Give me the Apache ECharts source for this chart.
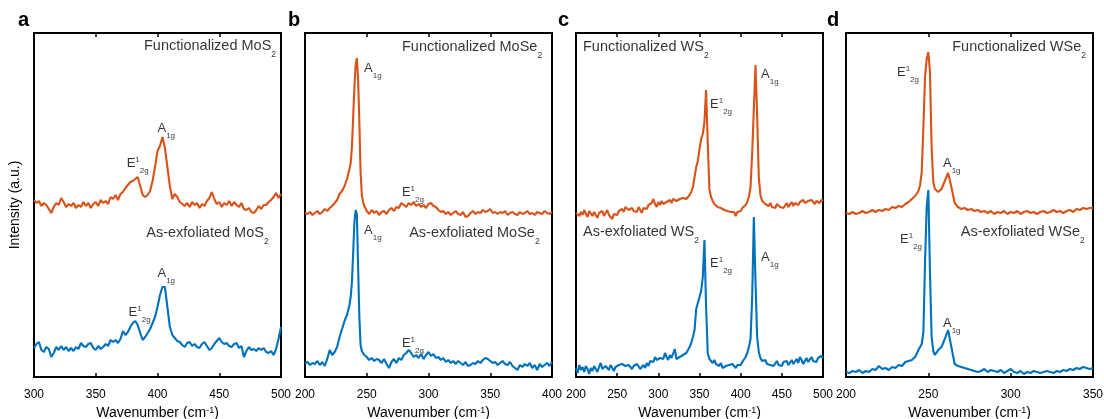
<!DOCTYPE html>
<html>
<head>
<meta charset="utf-8">
<script src="https://cdn.jsdelivr.net/npm/echarts@6.0.0/dist/echarts.min.js"></script>
<style>
  html, body { margin: 0; padding: 0; background: #fff; }
  #chart { width: 1104px; height: 419px; }
</style>
</head>
<body>
<div id="chart"></div>
<script>
// ---------------- DATA (arbitrary intensity units) ----------------
// Panel a: MoS2
const xMoS2 = [300,302,304,306,308,310,312,314,316,318,320,322,324,326,328,330,332,334,336,338,340,342,344,346,348,350,352,354,356,358,360,362,364,366,368,370,372,374,376,378,380,382,384,386,388,390,392,394,396,398,400,402,404,406,408,410,412,414,416,418,420,422,424,426,428,430,432,434,436,438,440,442,444,446,448,450,452,454,456,458,460,462,464,466,468,470,472,474,476,478,480,482,484,486,488,490,492,494,496,498,500];
const funcMoS2 = [177,174,176,171,174,172,168,164,170,174,
  172,179,175,170,173,171,174,169,172,170,
  175,171,174,169,173,175,171,177,174,176,
  173,180,178,182,177,183,185,189,192,195,
  196,198,200,191,182,180,182,186,196,210,
  226,231,240,229,210,191,178,183,180,175,
  173,171,174,170,175,172,174,169,173,171,
  176,179,185,178,173,175,170,174,172,176,
  171,175,172,170,174,168,167,169,165,164,
  167,171,168,172,172,175,177,180,184,179,
  183];
const exfMoS2 = [29,33,35,27,25,30,28,20,24,30,
  27,31,27,30,26,29,26,30,28,34,
  31,30,33,34,29,27,31,28,30,33,
  31,37,35,37,34,38,46,42,45,50,
  54,56,52,44,37,40,44,48,54,60,
  70,82,90,90,70,50,42,39,36,35,
  32,30,34,35,31,33,30,29,33,35,
  31,27,29,33,36,39,35,33,34,31,
  30,33,34,29,31,20,26,30,27,28,
  26,29,27,29,25,24,26,22,28,38,
  50];

// Panel b: MoSe2
const xMoSe2 = [200,202,204,206,208,210,212,214,216,218,220,222,224,226,228,230,232,234,
  236,237,238,239,240,241,242,243,244,245,246,247,248,
  250,252,254,256,258,260,262,264,266,268,270,272,274,276,278,280,282,284,286,288,290,292,294,296,298,300,302,304,306,308,310,312,314,316,318,320,322,324,326,328,330,332,334,336,338,340,342,344,346,348,350,352,354,356,358,360,362,364,366,368,370,372,374,376,378,380,382,384,386,388,390,392,394,396,398,400];
const funcMoSe2 = [164,163,165,162,164,166,163,165,168,166,169,171,174,177,183,186,191,198,
  208,214,230,260,290,312,319,298,255,205,182,175,171,
  166,163,167,164,166,162,165,166,163,167,
  169,166,170,169,174,172,170,174,172,175,
  171,173,170,172,169,173,174,171,170,167,
  165,166,163,165,162,164,166,163,162,165,
  160,161,164,166,163,165,164,167,165,166,
  168,164,165,163,165,164,166,162,164,165,
  163,162,165,163,164,166,163,164,162,165,
  164,163,166,164,163,165];
const exfMoSe2 = [14,15,12,14,13,16,12,15,11,18,27,22,25,30,40,48,56,62,
  72,80,95,124,155,167,163,110,60,32,26,24,22,
  20,17,19,16,18,17,14,18,13,9,
  15,18,14,19,17,22,24,27,24,20,
  22,19,23,18,22,25,21,23,19,20,
  17,19,15,17,14,16,13,16,14,12,
  15,11,12,14,13,16,14,17,19,18,
  16,14,15,12,14,16,13,12,15,11,
  9,7,12,10,13,11,14,9,12,7,
  13,10,12,14,11,15];

// Panel c: WS2
const xWS2 = [200,202,204,206,208,210,212,214,216,218,220,222,224,226,228,230,232,234,236,238,240,242,244,246,248,250,252,254,256,258,260,262,264,266,268,270,272,274,276,278,280,282,284,286,288,290,292,294,296,298,300,302,304,306,308,310,312,314,316,318,320,322,324,326,328,330,332,334,336,338,340,342,344,346,348,350,352,354,356,358,360,362,364,366,368,370,372,374,376,378,380,382,384,386,388,390,392,394,396,398,400,402,404,406,408,410,412,414,416,418,420,422,424,426,428,430,432,434,436,438,440,442,444,446,448,450,452,454,456,458,460,462,464,466,468,470,472,474,476,478,480,482,484,486,488,490,492,494,496,498,500];
const funcWS2 = [164,166,161,165,162,167,163,160,166,164,
  161,165,163,159,164,162,166,161,164,167,
  162,160,158,163,165,162,166,164,168,165,
  170,172,167,165,169,166,168,165,170,167,
  164,169,171,168,172,170,174,178,173,170,
  175,172,176,173,171,175,173,177,174,178,
  180,176,174,178,176,179,177,178,180,182,
  185,190,200,210,216,228,238,243,255,287,
  235,188,180,176,173,175,170,172,169,171,
  167,169,166,168,165,163,165,161,165,167,
  166,169,170,172,175,180,190,224,268,312,
  262,200,182,176,178,173,175,171,174,170,
  172,169,173,175,170,172,169,171,174,170,
  172,175,171,174,176,172,175,173,177,174,
  172,176,174,177,175,173,176,178,174,177,
  176];
const exfWS2 = [9,4,12,7,10,5,11,8,3,9,
  6,11,8,5,10,14,8,6,11,9,
  7,12,9,6,10,8,12,10,13,15,
  11,9,12,10,8,11,9,13,11,8,
  10,12,9,14,11,16,18,15,20,17,
  15,19,21,18,24,20,17,22,19,21,
  28,18,16,20,18,22,20,24,26,30,
  34,40,47,68,74,80,86,100,137,70,
  24,18,16,14,17,13,15,11,14,9,
  8,11,9,12,10,13,11,9,12,14,
  12,15,17,20,24,30,38,80,160,96,
  40,25,19,16,14,17,13,15,12,14,
  11,13,16,12,14,11,15,13,16,12,
  14,17,13,15,18,14,20,17,13,16,
  19,15,17,20,16,18,15,19,17,21,
  19];

// Panel d: WSe2
const xWSe2 = [200,202,204,206,208,210,212,214,216,218,220,222,224,226,228,230,232,234,236,238,240,242,244,
  245,246,247,248,249,250,251,252,253,254,
  256,258,260,262,264,266,268,270,272,274,276,278,280,282,284,286,288,290,292,294,296,298,300,302,304,306,308,310,312,314,316,318,320,322,324,326,328,330,332,334,336,338,340,342,344,346,348,350];
const funcWSe2 = [164,163,165,163,164,166,164,165,167,165,167,166,168,167,170,169,171,170,173,175,178,181,186,
  192,205,250,300,318,325,305,230,195,188,
  185,188,196,204,190,174,170,168,169,167,
  168,166,167,165,166,164,166,163,165,164,
  166,163,165,164,166,163,165,166,164,165,
  163,165,166,164,165,167,165,166,164,166,
  167,165,168,167,169,168,169,169];
const exfWSe2 = [5,4,6,5,7,4,6,5,8,7,11,8,9,7,10,9,12,11,15,16,17,20,27,
  30,33,45,115,170,187,104,40,26,22,
  27,30,38,47,30,13,11,10,9,8,
  7,6,5,6,8,5,7,6,5,7,
  4,6,8,5,4,6,3,5,4,6,
  5,4,5,6,5,4,6,5,7,6,
  8,7,9,8,10,9,8,9];

// axis ranges
const rangeMoS2 = [300, 500], rangeMoSe2 = [200, 400], rangeWS2 = [200, 500], rangeWSe2 = [200, 350];
const tickStep = 50;

// annotations (anchored in data coordinates)
const A1G = '{m|A}{sub|1g}';
const E2G = '{m|E}{sup|1}{sub|2g}';
const notesMoS2 = [
  { at: [496, 331], text: '{s|Functionalized MoS}{ss|2}', align: 'right' },
  { at: [490, 144], text: '{s|As-exfoliated MoS}{ss|2}', align: 'right' },
  { at: [400, 249], text: A1G, align: 'left' },
  { at: [375, 214], text: E2G, align: 'left' },
  { at: [400, 104], text: A1G, align: 'left' },
  { at: [376.6, 65], text: E2G, align: 'left' }
];
const notesMoSe2 = [
  { at: [392, 330], text: '{s|Functionalized MoSe}{ss|2}', align: 'right' },
  { at: [390, 144], text: '{s|As-exfoliated MoSe}{ss|2}', align: 'right' },
  { at: [247.8, 309], text: A1G, align: 'left' },
  { at: [278.5, 185], text: E2G, align: 'left' },
  { at: [247.8, 147], text: A1G, align: 'left' },
  { at: [278.5, 34], text: E2G, align: 'left' }
];
const notesWS2 = [
  { at: [208.5, 330], text: '{s|Functionalized WS}{ss|2}', align: 'left' },
  { at: [208.5, 145], text: '{s|As-exfoliated WS}{ss|2}', align: 'left' },
  { at: [362.8, 273], text: E2G, align: 'left' },
  { at: [424.8, 303], text: A1G, align: 'left' },
  { at: [362.8, 114], text: E2G, align: 'left' },
  { at: [424.8, 120], text: A1G, align: 'left' }
];
const notesWSe2 = [
  { at: [345.7, 330], text: '{s|Functionalized WSe}{ss|2}', align: 'right' },
  { at: [345, 145], text: '{s|As-exfoliated WSe}{ss|2}', align: 'right' },
  { at: [231, 305], text: E2G, align: 'left' },
  { at: [258.9, 214], text: A1G, align: 'left' },
  { at: [232.8, 138], text: E2G, align: 'left' },
  { at: [258.9, 54], text: A1G, align: 'left' }
];

// ---------------- CHART ----------------
const FONT = '"Liberation Sans", Arial, Helvetica, sans-serif';
const ORANGE = '#D95319';
const BLUE = '#0072BD';
const YMAX = 344;

const panels = [
  { letter: 'a', letterLeft: 18, left: 34, x: xMoS2, func: funcMoS2, exf: exfMoS2, range: rangeMoS2, notes: notesMoS2 },
  { letter: 'b', letterLeft: 288, left: 305, x: xMoSe2, func: funcMoSe2, exf: exfMoSe2, range: rangeMoSe2, notes: notesMoSe2 },
  { letter: 'c', letterLeft: 558, left: 576, x: xWS2, func: funcWS2, exf: exfWS2, range: rangeWS2, notes: notesWS2 },
  { letter: 'd', letterLeft: 827, left: 846, x: xWSe2, func: funcWSe2, exf: exfWSe2, range: rangeWSe2, notes: notesWSe2 }
];

const richStyles = {
  m:  { fontFamily: FONT, fontSize: 13, lineHeight: 24, verticalAlign: 'middle', color: '#000' },
  sup:{ fontFamily: FONT, fontSize: 8, lineHeight: 8, verticalAlign: 'top', padding: [5, 0, 0, 0], color: '#000' },
  sub:{ fontFamily: FONT, fontSize: 8, lineHeight: 8, verticalAlign: 'bottom', color: '#000' },
  s:  { fontFamily: FONT, fontSize: 14.5, lineHeight: 26, verticalAlign: 'middle', color: '#000' },
  ss: { fontFamily: FONT, fontSize: 8.5, lineHeight: 9, verticalAlign: 'bottom', color: '#000' }
};

const grid = [], xAxis = [], yAxis = [], series = [], title = [];
const tickStyle = { inside: true, length: 4, lineStyle: { color: '#000', width: 1.5 } };

panels.forEach((p, i) => {
  grid.push({ left: p.left, top: 33, width: 247, height: YMAX, show: true,
    containLabel: false, outerBoundsMode: 'none',
    borderColor: '#000', borderWidth: 2, backgroundColor: 'transparent' });
  xAxis.push({
    gridIndex: i, type: 'value', position: 'bottom', min: p.range[0], max: p.range[1], interval: tickStep,
    axisLine: { show: false }, axisTick: tickStyle, splitLine: { show: false },
    axisLabel: { color: '#000', fontSize: 12, margin: 12, fontFamily: FONT },
    name: '{n|Wavenumber (cm}{sp|-1}{n|)}', nameLocation: 'middle', nameGap: 27, nameMoveOverlap: false,
    nameTextStyle: { color: '#000', fontFamily: FONT, fontSize: 14,
      rich: {
        n: { fontFamily: FONT, fontSize: 14, lineHeight: 18, verticalAlign: 'middle', color: '#000' },
        sp: { fontFamily: FONT, fontSize: 9, lineHeight: 9, verticalAlign: 'top', padding: [2, 0, 0, 0], color: '#000' }
      } }
  });
  xAxis.push({
    gridIndex: i, type: 'value', position: 'top', min: p.range[0], max: p.range[1], interval: tickStep,
    axisLine: { show: false }, axisTick: tickStyle, splitLine: { show: false }, axisLabel: { show: false }
  });
  yAxis.push({
    gridIndex: i, type: 'value', min: 0, max: YMAX, show: i === 0,
    axisLine: { show: false }, axisTick: { show: false }, axisLabel: { show: false }, splitLine: { show: false },
    name: i === 0 ? 'Intensity (a.u.)' : '', nameLocation: 'middle', nameGap: 12,
    nameTextStyle: { color: '#000', fontFamily: FONT, fontSize: 14 }
  });
  const lineBase = { type: 'line', xAxisIndex: 2 * i, yAxisIndex: i, showSymbol: false, symbol: 'none',
    smooth: false, silent: true, animation: false };
  series.push(Object.assign({}, lineBase, {
    data: p.x.map((v, k) => [v, p.func[k]]),
    lineStyle: { color: ORANGE, width: 2.1 }, itemStyle: { color: ORANGE }
  }));
  series.push(Object.assign({}, lineBase, {
    data: p.x.map((v, k) => [v, p.exf[k]]),
    lineStyle: { color: BLUE, width: 2.1 }, itemStyle: { color: BLUE }
  }));
  series.push({
    type: 'scatter', xAxisIndex: 2 * i, yAxisIndex: i, silent: true, animation: false,
    symbolSize: 0.1, itemStyle: { color: 'rgba(0,0,0,0)' }, clip: false,
    data: p.notes.map(n => ({
      value: n.at,
      label: { show: true, position: 'inside', align: n.align, verticalAlign: 'middle',
        formatter: n.text, rich: richStyles, color: '#000' }
    }))
  });
  title.push({ text: p.letter, left: p.letterLeft, top: 10, padding: 0,
    textStyle: { fontFamily: FONT, fontSize: 20, fontWeight: 'bold', color: '#000' } });
});

const chart = echarts.init(document.getElementById('chart'), null, { renderer: 'canvas' });
chart.setOption({
  animation: false,
  backgroundColor: '#fff',
  textStyle: { fontFamily: FONT },
  title, grid, xAxis, yAxis, series
});
</script>
</body>
</html>
